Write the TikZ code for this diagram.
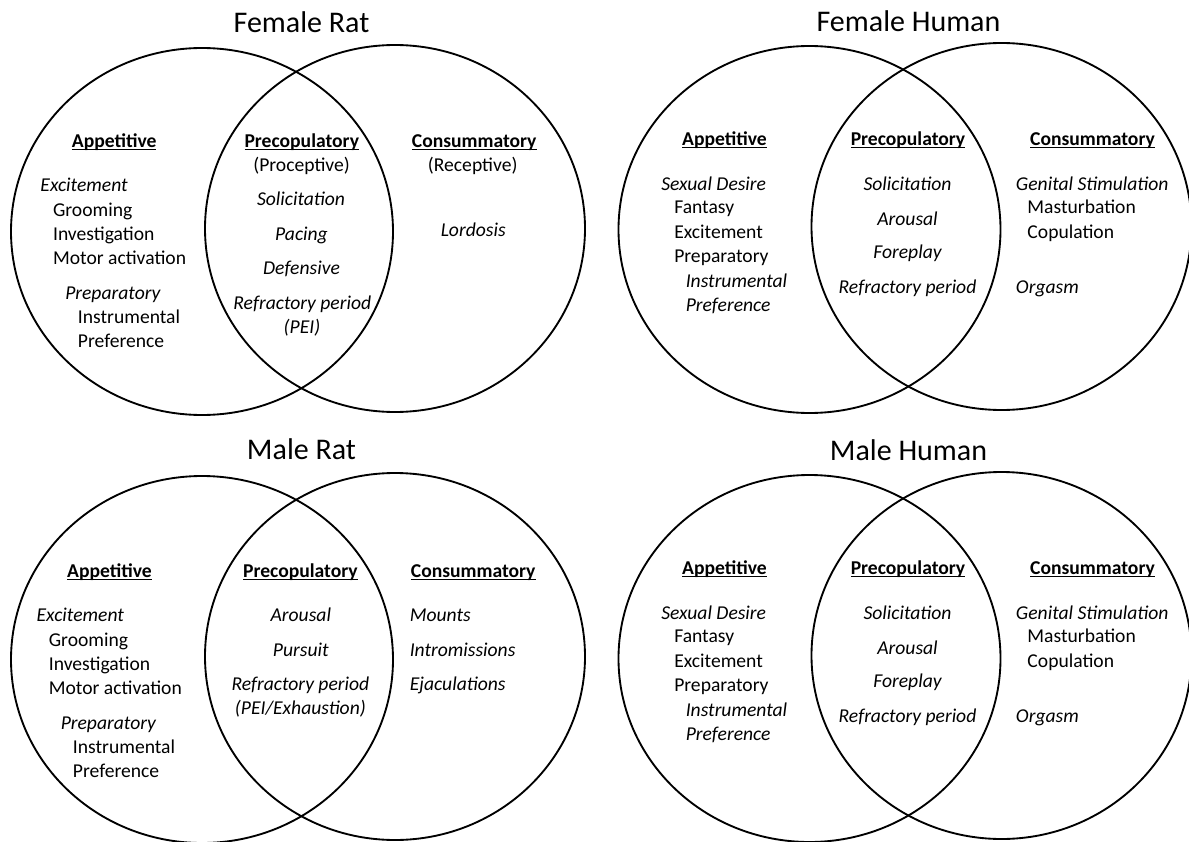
\documentclass[tikz,border=0pt]{standalone}
\usepackage{fontspec}
\setmainfont{Carlito}
\usetikzlibrary{shapes.geometric}
\newcommand\myul[1]{\setbox0\hbox{#1}\rlap{\rule[-1.9pt]{\wd0}{0.75pt}}\box0}
\tikzset{
  venn/.style={ellipse, draw, line width=1.4pt, inner sep=0pt, outer sep=0pt, minimum height=275.25pt},
  vennL/.style={venn, minimum width=286.5pt},
  vennR/.style={venn, minimum width=285pt},
  ttl/.style={font=\fontsize{22.5}{27}\selectfont, text height=14.6pt, text depth=0pt, inner sep=0pt, anchor=center},
  body/.style={font=\fontsize{14.7}{17}\selectfont, text height=9.6pt, text depth=0pt, inner sep=0pt},
  hd/.style={body, font=\fontsize{14.7}{17}\selectfont\bfseries, anchor=center},
  lt/.style={body, anchor=west},
  lti/.style={lt, font=\fontsize{14.7}{17}\selectfont\itshape},
  ct/.style={body, anchor=center},
  cti/.style={ct, font=\fontsize{14.7}{17}\selectfont\itshape},
}
\newcommand\HumanVenn[3]{%
\begin{scope}[shift={(0,#3)}]
\node[ttl] (#1-title) at (908.5,21.5) {#2};
\node[vennL] (#1-l) at (809.5,229.5) {};
\node[vennR] (#1-r) at (1001.5,226.5) {};
\node[hd] (#1-app) at (724.5,139.5) {\myul{Appetitive}};
\node[lti] (#1-a1) at (661,183.6) {Sexual Desire};
\node[lt] (#1-a2) at (674,207.5) {Fantasy};
\node[lt] (#1-a3) at (674,232) {Excitement};
\node[lt] (#1-a4) at (674,256.3) {Preparatory};
\node[lti] (#1-a5) at (685.5,281) {Instrumental};
\node[lti] (#1-a6) at (685.5,305.3) {Preference};
\node[hd] (#1-pre) at (908,139.5) {\myul{Precopulatory}};
\node[cti] (#1-p1) at (907.5,183.6) {Solicitation};
\node[cti] (#1-p2) at (907.5,218.6) {Arousal};
\node[cti] (#1-p3) at (907.5,252.3) {Foreplay};
\node[cti] (#1-p4) at (907.5,287) {Refractory period};
\node[hd] (#1-con) at (1092.5,139.5) {\myul{Consummatory}};
\node[lti] (#1-c1) at (1015.7,183.6) {Genital Stimulation};
\node[lt] (#1-c2) at (1027.2,207.5) {Masturbation};
\node[lt] (#1-c3) at (1027.2,232) {Copulation};
\node[lti] (#1-c4) at (1015.7,287) {Orgasm};
\end{scope}}
\begin{document}
\begin{tikzpicture}[x=0.75pt, y=-0.75pt]
\useasboundingbox (0,0) rectangle (1189,842);
% ---------- Female Rat ----------
\node[ttl] (fr-title) at (301.5,22.5) {Female Rat};
\node[vennL] (fr-l) at (202,231.5) {};
\node[vennR] (fr-r) at (395,228.5) {};
\node[hd] (fr-app) at (114.2,141) {\myul{Appetitive}};
\node[lti] (fr-a1) at (40.2,185.3) {Excitement};
\node[lt] (fr-a2) at (52.8,209.6) {Grooming};
\node[lt] (fr-a3) at (52.8,233.6) {Investigation};
\node[lt] (fr-a4) at (52.8,258) {Motor activation};
\node[lti] (fr-a5) at (65,292.6) {Preparatory};
\node[lt] (fr-a6) at (77.7,317) {Instrumental};
\node[lt] (fr-a7) at (77.7,341.3) {Preference};
\node[hd] (fr-pre) at (301.8,141) {\myul{Precopulatory}};
\node[ct] (fr-p0) at (301.6,165.3) {(Proceptive)};
\node[cti] (fr-p1) at (301,199.3) {Solicitation};
\node[cti] (fr-p2) at (301.5,234.3) {Pacing};
\node[cti] (fr-p3) at (301.5,267.6) {Defensive};
\node[cti] (fr-p4) at (302.3,303) {Refractory period};
\node[cti] (fr-p5) at (302,327) {(PEI)};
\node[hd] (fr-con) at (474.2,141) {\myul{Consummatory}};
\node[ct] (fr-c0) at (472.7,165.3) {(Receptive)};
\node[cti] (fr-c1) at (473.2,229.6) {Lordosis};
% ---------- Male Rat ----------
\node[ttl] (mr-title) at (301.5,450) {Male Rat};
\node[vennL] (mr-l) at (202,659.5) {};
\node[vennR] (mr-r) at (395,656.5) {};
\node[hd] (mr-app) at (109.5,570.6) {\myul{Appetitive}};
\node[lti] (mr-a1) at (36.4,615.3) {Excitement};
\node[lt] (mr-a2) at (48.6,639.6) {Grooming};
\node[lt] (mr-a3) at (48.6,664) {Investigation};
\node[lt] (mr-a4) at (48.6,688) {Motor activation};
\node[lti] (mr-a5) at (60.5,723) {Preparatory};
\node[lt] (mr-a6) at (72.7,747.3) {Instrumental};
\node[lt] (mr-a7) at (72.7,771.3) {Preference};
\node[hd] (mr-pre) at (300.4,570.6) {\myul{Precopulatory}};
\node[cti] (mr-p1) at (300.8,615.3) {Arousal};
\node[cti] (mr-p2) at (300.8,649.6) {Pursuit};
\node[cti] (mr-p3) at (300.4,684) {Refractory period};
\node[cti] (mr-p4) at (300.4,708) {(PEI/Exhaustion)};
\node[hd] (mr-con) at (473.2,570.6) {\myul{Consummatory}};
\node[lti] (mr-c1) at (409.5,615.3) {Mounts};
\node[lti] (mr-c2) at (409.5,649.6) {Intromissions};
\node[lti] (mr-c3) at (409.5,684) {Ejaculations};
% ---------- Humans ----------
\HumanVenn{fh}{Female Human}{0}
\HumanVenn{mh}{Male Human}{429}
\end{tikzpicture}
\end{document}
